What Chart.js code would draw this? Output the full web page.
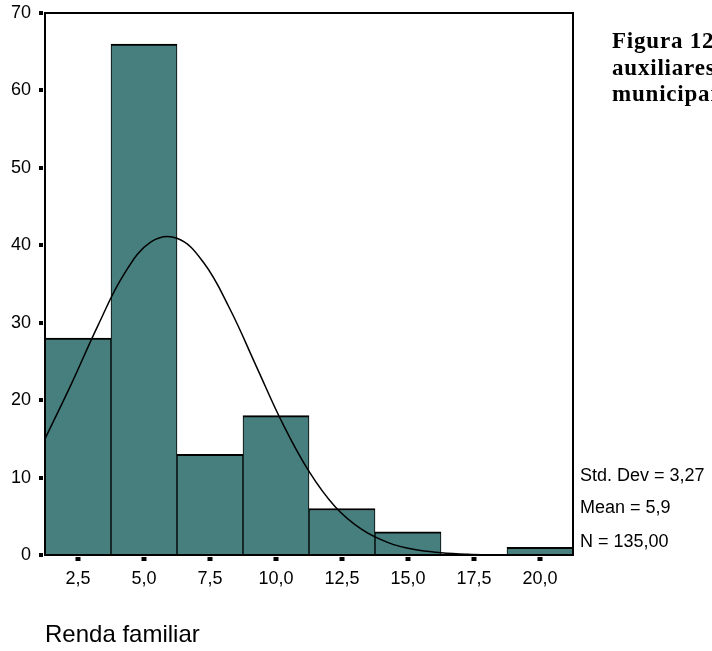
<!DOCTYPE html>
<html>
<head>
<meta charset="utf-8">
<script src="https://cdn.jsdelivr.net/npm/chart.js@4/dist/chart.umd.min.js"></script>
<style>
  body { margin: 0; background: #fff; }
  #wrap { position: relative; width: 712px; height: 651px; overflow: hidden; }
  #grafico { position: absolute; left: 0; top: 0; }
  .legenda {
    position: absolute; left: 612px; top: 28px;
    font: bold 23px "Liberation Serif", "Times New Roman", serif;
    letter-spacing: 0.8px;
    line-height: 26.5px; white-space: nowrap; color: #000;
  }
  .stat {
    position: absolute; left: 580px;
    font: 18px "Liberation Sans", Arial, sans-serif;
    line-height: 18px; white-space: nowrap; color: #000;
  }
</style>
</head>
<body>
<div id="wrap">
  <canvas id="grafico" width="712" height="651"></canvas>
  <div class="legenda">Figura 12<br>auxiliares<br>municipais</div>
  <div class="stat" style="top:466px">Std. Dev = 3,27</div>
  <div class="stat" style="top:498px">Mean = 5,9</div>
  <div class="stat" style="top:532px">N = 135,00</div>
</div>
<script>
// Histograma da renda familiar
const centros = [2.5, 5.0, 7.5, 10.0, 12.5, 15.0, 17.5, 20.0];
const frequencias = [28, 66, 13, 18, 6, 3, 0, 1];
const ticksX = [2.5, 5.0, 7.5, 10.0, 12.5, 15.0, 17.5, 20.0];
const ticksY = [0, 10, 20, 30, 40, 50, 60, 70];

// Curva normal sobreposta
const curvaX = [1.25, 2.25, 3.25, 4.25, 5.25, 6.25, 7.25, 8.25, 9.25, 10.25, 11.25,
    12.25, 13.25, 14.25, 15.25, 16.25, 17.25, 18.25, 19.25, 20.25, 21.25];
const curvaY = [15.0, 22.1, 29.6, 36.3, 40.4, 40.9, 37.8, 31.8, 24.4, 17.0, 10.8,
    6.2, 3.3, 1.6, 0.7, 0.3, 0.1, 0.03, 0.01, 0, 0];

const corBarra = '#467f7e';
const fonte = '"Liberation Sans", Arial, sans-serif';

// moldura e marcas dos eixos
const molduraPlugin = {
    id: 'moldura',
    afterDatasetsDraw(chart) {
        const { ctx, chartArea: a, scales } = chart;
        ctx.save();
        ctx.fillStyle = '#000';
        ticksY.forEach(v => {
            const y = scales.y.getPixelForValue(v);
            ctx.fillRect(a.left - 6, Math.round(y) - 2, 4, 4);
        });
        ticksX.forEach(v => {
            const x = scales.x.getPixelForValue(v);
            ctx.fillRect(Math.round(x) - 2.5, a.bottom + 2, 5, 4);
        });
        ctx.strokeStyle = '#000';
        ctx.lineWidth = 2;
        ctx.strokeRect(a.left, a.top, a.right - a.left, a.bottom - a.top);
        ctx.restore();
    }
};

const ctx = document.getElementById('grafico').getContext('2d');
const grafico = new Chart(ctx, {
    type: 'bar',
    data: {
        datasets: [{
            type: 'line',
            data: curvaX.map((x, i) => ({ x: x, y: curvaY[i] })),
            borderColor: '#000',
            borderWidth: 1.5,
            pointRadius: 0,
            tension: 0.4,
            fill: false,
            order: 1
        }, {
            type: 'bar',
            data: centros.map((x, i) => ({ x: x, y: frequencias[i] })),
            backgroundColor: corBarra,
            borderColor: '#000',
            borderWidth: { top: 2, left: 1, right: 1, bottom: 0 },
            borderSkipped: false,
            barPercentage: 1,
            categoryPercentage: 1,
            order: 2
        }]
    },
    options: {
        responsive: false,
        animation: false,
        devicePixelRatio: 1,
        layout: { padding: { left: 0, top: 13, right: 139, bottom: 0 } },
        plugins: {
            legend: { display: false },
            tooltip: { enabled: false }
        },
        scales: {
            x: {
                type: 'linear',
                offset: false,
                min: 1.25,
                max: 21.25,
                grid: { display: false, drawTicks: false, offset: false },
                border: { display: false },
                afterBuildTicks(scale) {
                    scale.ticks = ticksX.map(v => ({ value: v }));
                },
                afterFit(scale) {
                    scale.height = 96;
                    scale.paddingLeft = 0;
                    scale.paddingRight = 0;
                },
                ticks: {
                    padding: 13,
                    color: '#000',
                    font: { family: fonte, size: 18 },
                    maxRotation: 0,
                    callback: v => v.toFixed(1).replace('.', ',')
                },
                title: {
                    display: true,
                    text: 'Renda familiar',
                    align: 'start',
                    color: '#000',
                    font: { family: fonte, size: 24 },
                    padding: { top: 0, bottom: 1 }
                }
            },
            y: {
                min: 0,
                max: 70,
                grid: { display: false, drawTicks: false },
                border: { display: false },
                afterBuildTicks(scale) {
                    scale.ticks = ticksY.map(v => ({ value: v }));
                },
                afterFit(scale) {
                    scale.width = 45;
                    scale.paddingTop = 0;
                    scale.paddingBottom = 0;
                },
                ticks: {
                    padding: 14,
                    color: '#000',
                    font: { family: fonte, size: 18 }
                }
            }
        }
    },
    plugins: [molduraPlugin]
});
</script>
</body>
</html>
